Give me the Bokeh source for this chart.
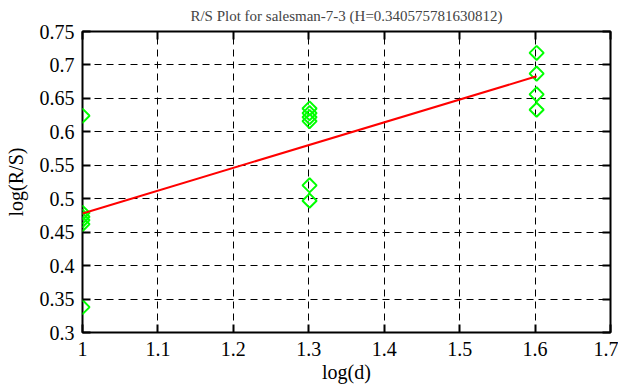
import numpy as np
from bokeh.plotting import figure
from bokeh.models import LinearAxis, FixedTicker, Range1d
from bokeh.embed import file_html
from bokeh.resources import INLINE

title_text = "R/S Plot for salesman-7-3 (H=0.340575781630812)"
x_label = "log(d)"
y_label = "log(R/S)"

x_ticks = [1.0, 1.1, 1.2, 1.3, 1.4, 1.5, 1.6, 1.7]
x_tick_labels = ["1", "1.1", "1.2", "1.3", "1.4", "1.5", "1.6", "1.7"]
y_ticks = [0.3, 0.35, 0.4, 0.45, 0.5, 0.55, 0.6, 0.65, 0.7, 0.75]
y_tick_labels = ["0.3", "0.35", "0.4", "0.45", "0.5", "0.55", "0.6", "0.65", "0.7", "0.75"]

block_sizes = [10, 20, 40]
rs_d10 = [0.624, 0.479, 0.473, 0.468, 0.462, 0.338]
rs_d20 = [0.635, 0.628, 0.622, 0.616, 0.520, 0.497]
rs_d40 = [0.718, 0.687, 0.656, 0.633]

H = 0.340575781630812
fit_intercept = 0.1374

groups = [rs_d10, rs_d20, rs_d40]
xs, ys = [], []
for d, vals in zip(block_sizes, groups):
    for v in vals:
        xs.append(float(np.log10(d)))
        ys.append(v)

fit_x = [float(np.log10(block_sizes[0])), float(np.log10(block_sizes[-1]))]
fit_y = [fit_intercept + H * fx for fx in fit_x]

FONT = "Liberation Serif"
FS = "20px"

p = figure(frame_width=528, frame_height=301,
           x_range=Range1d(1.0, 1.7), y_range=Range1d(0.3, 0.75),
           output_backend="svg", toolbar_location=None,
           min_border_left=82, min_border_right=8, min_border_top=31, min_border_bottom=46,
           background_fill_color="white", border_fill_color="white")

p.title.text = title_text
p.title.align = "center"
p.title.vertical_align = "top"
p.title.text_font = FONT
p.title.text_font_size = "15px"
p.title.text_font_style = "normal"
p.title.standoff = 12

p.outline_line_color = "black"
p.outline_line_width = 2
p.outline_line_alpha = 1.0

for ax, ticks, labels in [(p.xaxis[0], x_ticks, x_tick_labels), (p.yaxis[0], y_ticks, y_tick_labels)]:
    ax.ticker = FixedTicker(ticks=ticks)
    ax.major_label_overrides = {t: l for t, l in zip(ticks, labels)}
    ax.major_label_text_font = FONT
    ax.major_label_text_font_size = FS
    ax.major_label_text_font_style = "normal"
    ax.major_label_text_color = "black"
    ax.axis_label_text_font = FONT
    ax.axis_label_text_font_size = FS
    ax.axis_label_text_font_style = "normal"
    ax.axis_label_text_color = "black"
    ax.axis_line_color = None
    ax.major_tick_in = 8
    ax.major_tick_out = 0
    ax.major_tick_line_width = 2
    ax.major_tick_line_color = "black"
    ax.minor_tick_line_color = None

p.xaxis[0].axis_label = x_label
p.yaxis[0].axis_label = y_label
p.xaxis[0].major_label_standoff = 9
p.yaxis[0].major_label_standoff = 8
p.xaxis[0].axis_label_standoff = 2
p.yaxis[0].axis_label_standoff = 10

top_axis = LinearAxis(ticker=FixedTicker(ticks=x_ticks), major_label_text_font_size="0px",
                      major_label_text_color=None, major_tick_in=8, major_tick_out=0,
                      major_tick_line_width=2, axis_line_color=None, minor_tick_line_color=None,
                      major_label_standoff=0)
right_axis = LinearAxis(ticker=FixedTicker(ticks=y_ticks), major_label_text_font_size="0px",
                        major_label_text_color=None, major_tick_in=8, major_tick_out=0,
                        major_tick_line_width=2, axis_line_color=None, minor_tick_line_color=None,
                        major_label_standoff=0)
p.add_layout(top_axis, "above")
p.add_layout(right_axis, "right")

p.xgrid.ticker = FixedTicker(ticks=x_ticks)
p.ygrid.ticker = FixedTicker(ticks=y_ticks)
for g in (p.xgrid, p.ygrid):
    g.grid_line_color = "black"
    g.grid_line_dash = "7 5"
    g.grid_line_width = 1
    g.grid_line_alpha = 1.0

p.scatter(xs, ys, marker="square", angle=np.pi / 4, size=10,
          fill_color=None, line_color="#00ff00", line_width=2)
p.line(fit_x, fit_y, line_color="#ff0000", line_width=2)

open("out.html", "w").write(file_html(p, INLINE))
